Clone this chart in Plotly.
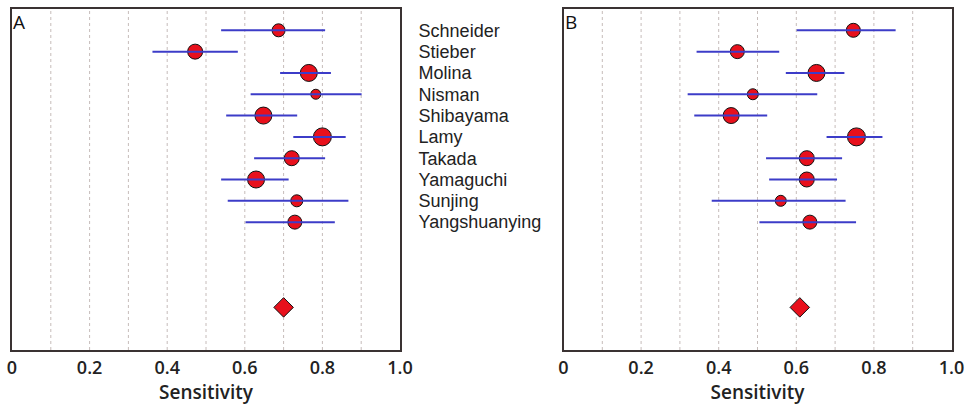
import plotly.graph_objects as go

# ---------------- data ----------------
studies = ["Schneider", "Stieber", "Molina", "Nisman", "Shibayama",
           "Lamy", "Takada", "Yamaguchi", "Sunjing", "Yangshuanying"]
rows = [1, 2, 3, 4, 5, 6, 7, 8, 9, 10]
pooled_row = 14

sens_a = [0.687, 0.472, 0.765, 0.783, 0.648, 0.800, 0.721, 0.629, 0.734, 0.729]
lo_a   = [0.539, 0.362, 0.691, 0.615, 0.552, 0.725, 0.624, 0.539, 0.556, 0.602]
hi_a   = [0.807, 0.582, 0.822, 0.901, 0.735, 0.860, 0.807, 0.713, 0.867, 0.832]
pooled_a = 0.700

sens_b = [0.747, 0.448, 0.652, 0.488, 0.432, 0.755, 0.627, 0.627, 0.560, 0.635]
lo_b   = [0.601, 0.343, 0.573, 0.320, 0.337, 0.678, 0.522, 0.530, 0.382, 0.505]
hi_b   = [0.856, 0.556, 0.724, 0.654, 0.525, 0.822, 0.718, 0.705, 0.727, 0.754]
pooled_b = 0.609

x_ticks = [0, 0.2, 0.4, 0.6, 0.8, 1.0]
x_tick_labels = ["0", "0.2", "0.4", "0.6", "0.8", "1.0"]
panel_names = ["A", "B"]

# ---------------- styles ----------------
marker_px_a = [13, 15, 17, 10, 17, 18, 15, 17, 12, 14]
marker_px_b = [14, 14, 17, 11, 16, 18, 15, 15, 11, 14]
RED = "#e8101c"
BLUE = "#3c3cc8"
FRAME = "#3a3232"
GRID = "#c6bcba"

fig = go.Figure()


def add_panel(sens, lo, hi, pooled, sizes, xa, ya):
    fig.add_trace(go.Scatter(
        x=sens, y=rows, mode="markers", xaxis=xa, yaxis=ya,
        marker=dict(color=RED, size=sizes, opacity=1,
                    line=dict(color="#111", width=1)),
        showlegend=False, hoverinfo="skip"))
    xs, ys = [], []
    for l, h, r in zip(lo, hi, rows):
        xs += [l, h, None]
        ys += [r, r, None]
    fig.add_trace(go.Scatter(
        x=xs, y=ys, mode="lines", xaxis=xa, yaxis=ya,
        line=dict(color=BLUE, width=2), showlegend=False, hoverinfo="skip"))
    fig.add_trace(go.Scatter(
        x=[pooled], y=[pooled_row], mode="markers", xaxis=xa, yaxis=ya,
        marker=dict(symbol="diamond", color=RED, size=15, opacity=1,
                    line=dict(color="#111", width=1)),
        showlegend=False, hoverinfo="skip"))


add_panel(sens_a, lo_a, hi_a, pooled_a, marker_px_a, "x", "y")
add_panel(sens_b, lo_b, hi_b, pooled_b, marker_px_b, "x2", "y2")

W, H = 968, 407
xdom_a = [12 / W, 400 / W]
xdom_b = [563.5 / W, 951.5 / W]
ydom = [1 - 350 / H, 1 - 9 / H]

tick_font = dict(family="Open Sans", size=18, color="#222", weight=600)
title_font = dict(family="Open Sans", size=19, color="#222", weight=600)

xaxis_common = dict(
    range=[0, 1], tickvals=x_ticks, ticktext=x_tick_labels,
    showgrid=False, zeroline=False, showline=True, mirror=True,
    linecolor=FRAME, linewidth=2, ticks="", tickfont=tick_font,
    automargin=False, ticklabeloverflow="allow",
    title=dict(text="Sensitivity", font=title_font, standoff=4),
)
yaxis_common = dict(
    range=[16, 0], showgrid=False, zeroline=False, showline=True,
    mirror=True, linecolor=FRAME, linewidth=2, ticks="", automargin=False,
)

fig.update_layout(
    template="none",
    width=W, height=H, margin=dict(l=0, r=0, t=0, b=0, autoexpand=False),
    paper_bgcolor="white", plot_bgcolor="white",
    xaxis=dict(domain=xdom_a, anchor="y", **xaxis_common),
    xaxis2=dict(domain=xdom_b, anchor="y2", **xaxis_common),
    yaxis=dict(domain=ydom, anchor="x", side="right", tickvals=rows,
               ticktext=studies, ticklabelstandoff=13,
               ticklabeloverflow="allow",
               tickfont=dict(family="Liberation Sans", size=18, color="#222"),
               **yaxis_common),
    yaxis2=dict(domain=ydom, anchor="x2", showticklabels=False,
                **yaxis_common),
)

# dashed vertical grid lines at every 0.1
grid_vals = [0.1, 0.2, 0.3, 0.4, 0.5, 0.6, 0.7, 0.8, 0.9]
for xa, ya in (("x", "y"), ("x2", "y2")):
    for g in grid_vals:
        fig.add_shape(type="line", xref=xa, yref=f"{ya} domain",
                      x0=g, x1=g, y0=0, y1=1, layer="below",
                      line=dict(color=GRID, width=1, dash="3px,3px"))

for name, xa in zip(panel_names, ("x", "x2")):
    fig.add_annotation(text=name, xref=f"{xa} domain", yref="paper",
                       x=0, y=ydom[1], xanchor="left", yanchor="top",
                       xshift=-1, yshift=2, showarrow=False,
                       font=dict(family="Open Sans", size=19, color="#111"))

fig.write_html(
    "out.html",
    config={"displayModeBar": False},
    post_script="document.body.style.margin='0px';"
                "document.body.style.overflow='hidden';",
)
